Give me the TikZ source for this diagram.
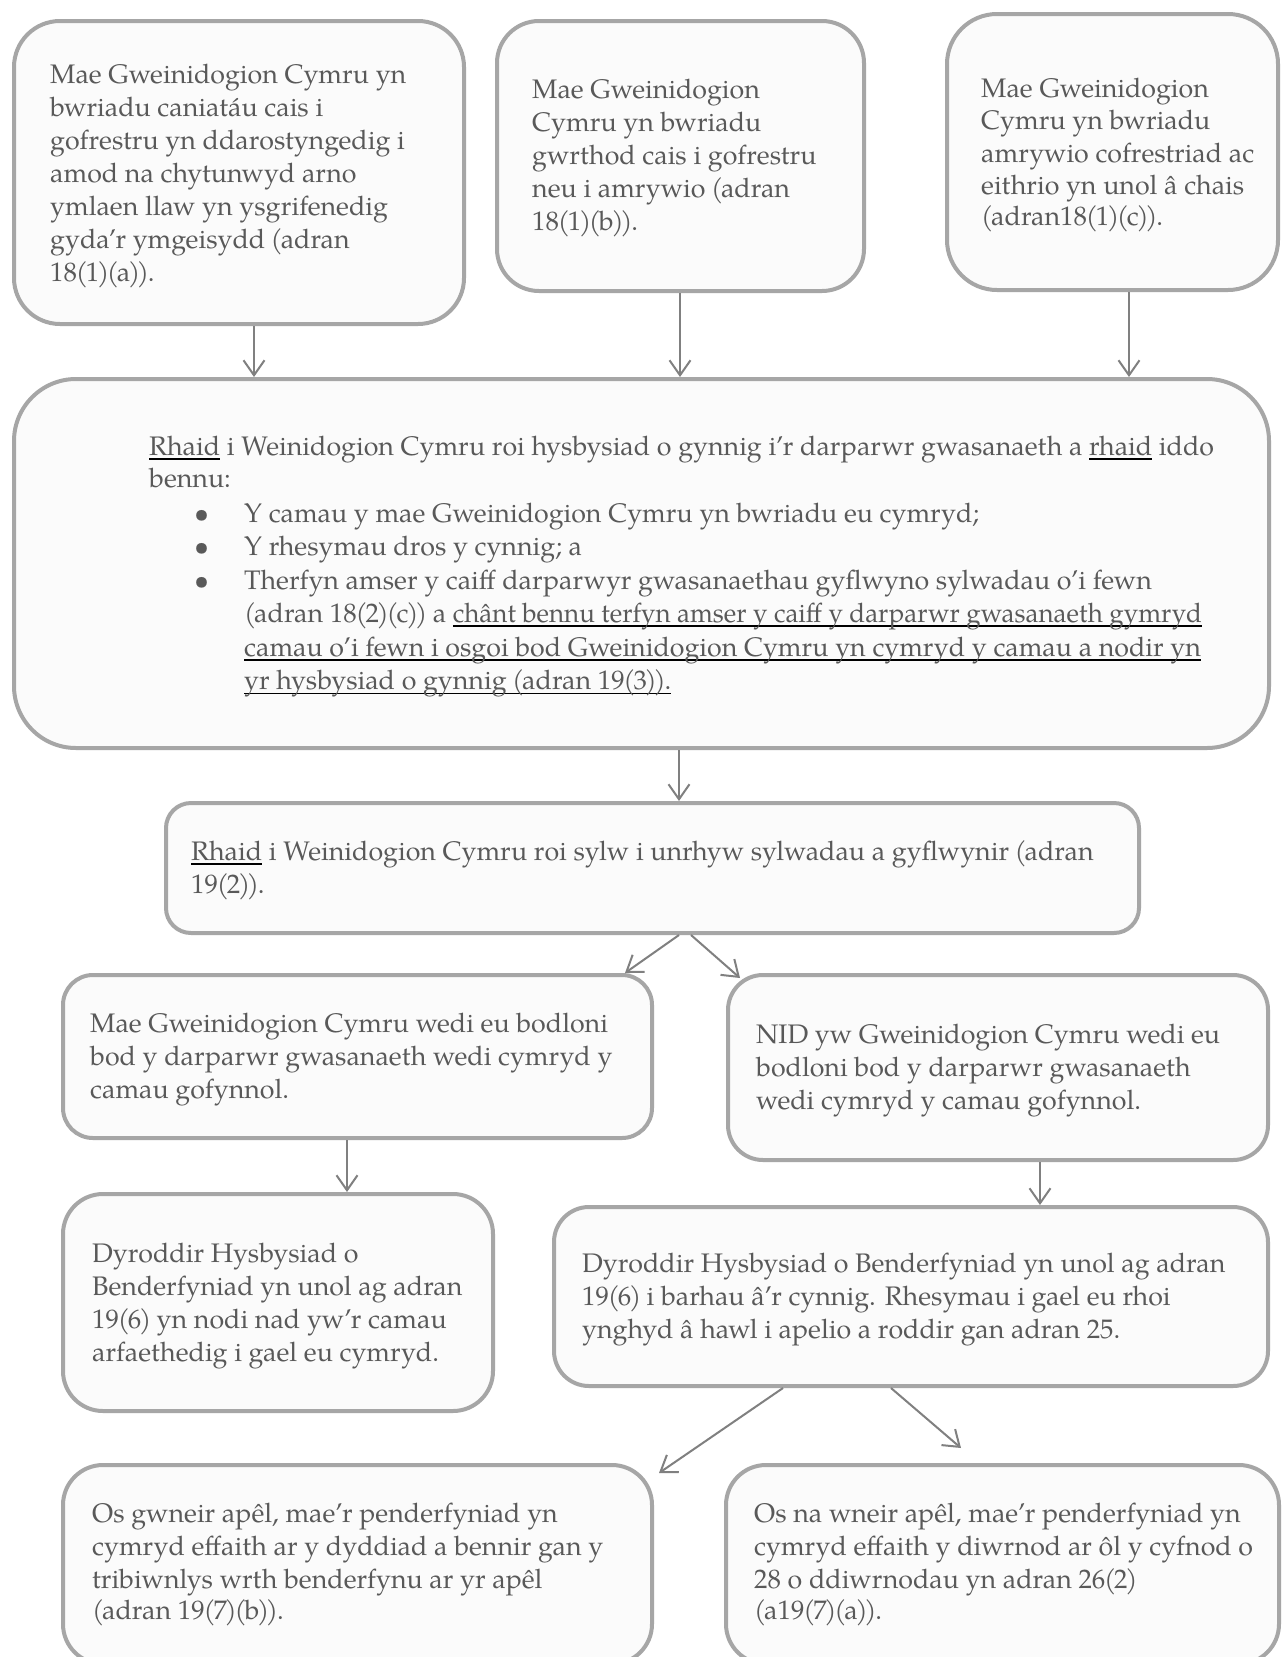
\documentclass[tikz,border=0pt]{standalone}
\usepackage{fontspec}
\usepackage{graphicx}
\setmainfont{texgyrepagella}[Extension=.otf, UprightFont=*-regular, BoldFont=*-bold, ItalicFont=*-italic, BoldItalicFont=*-bolditalic]
\usetikzlibrary{arrows.meta}
\definecolor{bordergray}{HTML}{A6A6A6}
\definecolor{txtgray}{HTML}{595959}
\definecolor{arrgray}{HTML}{808080}
\definecolor{boxfill}{HTML}{FBFBFB}
\newsavebox\ulbox
\newcommand\ulx[1]{\leavevmode\sbox\ulbox{#1}\rlap{\color{black}\rule[-4.5pt]{\wd\ulbox}{1.8pt}}\usebox\ulbox}
\newcommand\tb[2][33pt]{\parbox[t]{1300pt}{\fontsize{26.8pt}{#1}\selectfont\raggedright #2}}
\newcommand\bul{\leavevmode\llap{\textbullet\hspace{35pt}}}
\newcommand\LP{\kern-1.2pt(\kern-2.2pt}
\newcommand\RP{\kern-2.2pt)\kern-1.2pt}
\newcommand\boxat[6]{\node[boxsty, rounded corners=#6pt, minimum width={(#4-#2)*1pt}, minimum height={(#5-#3)*1pt}] (#1) at ({(#2+#4)/2},{(#3+#5)/2}) {};}
\tikzset{
  boxsty/.style={draw=bordergray, line width=4pt, fill=boxfill, inner sep=0pt, rectangle},
  txt/.style={inner sep=0pt, text=txtgray, anchor=base west},
  arr/.style={draw=arrgray, line width=2pt, -{Straight Barb[length=15pt,width=21pt]}}
}
\begin{document}
\begin{tikzpicture}[x=1pt, y=-1pt]
\useasboundingbox (0,0) rectangle (1282,1657);
\fill[white] (0,0) rectangle (1282,1657);
% boxes
\boxat{b1}{14}{21}{464}{324}{46}
\boxat{b2}{497}{21}{864}{291}{42}
\boxat{b3}{947}{14}{1278}{290}{50}
\boxat{big}{14}{379}{1269}{748}{62}
\boxat{b19}{166}{803}{1139}{933}{25}
\boxat{ml}{63}{975}{652}{1138}{30}
\boxat{mr}{728}{975}{1268}{1160}{35}
\boxat{ll}{63}{1194}{493}{1411}{40}
\boxat{lr}{554}{1207}{1268}{1386}{35}
\boxat{bl}{63}{1465}{652}{1664}{40}
\boxat{br}{726}{1465}{1279}{1664}{40}
% texts
\node[txt] (t1) at (50,83) {\tb{Mae Gweinidogion Cymru yn\\bwriadu caniatáu cais i\\gofrestru yn ddarostyngedig i\\amod na chytunwyd arno\\ymlaen llaw yn ysgrifenedig\\gyda’r ymgeisydd \LP adran\\18\LP 1\RP\LP a\RP\RP.}};
\node[txt] (t2) at (532,98) {\tb{Mae Gweinidogion\\Cymru yn bwriadu\\gwrthod cais i gofrestru\\neu i amrywio \LP adran\\18\LP 1\RP\LP b\RP\RP.}};
\node[txt] (t3) at (981,97) {\tb[32.5pt]{Mae Gweinidogion\\Cymru yn bwriadu\\amrywio cofrestriad ac\\eithrio yn unol â chais\\\LP adran18\LP 1\RP\LP c\RP\RP.}};
\node[txt] (tbig) at (149,455) {\tb[32pt]{\ulx{Rhaid} i Weinidogion Cymru roi hysbysiad o gynnig i’r darparwr gwasanaeth a \ulx{rhaid} iddo\\bennu:}};
\node[txt] (tbul) at (244,522) {\tb[33.8pt]{\bul Y camau y mae Gweinidogion Cymru yn bwriadu eu cymryd;\\\bul Y rhesymau dros y cynnig; a\\\bul Therfyn amser y caiff darparwyr gwasanaethau gyflwyno sylwadau o’i fewn\\\LP adran 18\LP 2\RP\LP c\RP\RP{} a \scalebox{0.967}[1]{\ulx{chânt bennu terfyn amser y caiff y darparwr gwasanaeth gymryd}}\\\ulx{camau o’i fewn i osgoi bod Gweinidogion Cymru yn cymryd y camau a nodir yn}\\\ulx{yr hysbysiad o gynnig \LP adran 19\LP 3\RP\RP.}}};
\node[txt] (t19) at (191,860) {\tb{\ulx{Rhaid} i Weinidogion Cymru roi sylw i unrhyw sylwadau a gyflwynir \LP adran\\19\LP 2\RP\RP.}};
\node[txt] (tml) at (90,1032) {\tb{Mae Gweinidogion Cymru wedi eu bodloni\\bod y darparwr gwasanaeth wedi cymryd y\\camau gofynnol.}};
\node[txt] (tmr) at (756,1043) {\tb{NID yw Gweinidogion Cymru wedi eu\\bodloni bod y darparwr gwasanaeth\\wedi cymryd y camau gofynnol.}};
\node[txt] (tll) at (92,1262) {\tb{Dyroddir Hysbysiad o\\Benderfyniad yn unol ag adran\\19\LP 6\RP{} yn nodi nad yw’r camau\\arfaethedig i gael eu cymryd.}};
\node[txt] (tlr) at (582,1272) {\tb{Dyroddir Hysbysiad o Benderfyniad yn unol ag adran\\19\LP 6\RP{} i barhau â’r cynnig. Rhesymau i gael eu rhoi\\ynghyd â hawl i apelio a roddir gan adran 25.}};
\node[txt] (tbl) at (92,1522) {\tb{Os gwneir apêl, mae’r penderfyniad yn\\cymryd effaith ar y dyddiad a bennir gan y\\tribiwnlys wrth benderfynu ar yr apêl\\\LP adran 19\LP 7\RP\LP b\RP\RP.}};
\node[txt] (tbr) at (754,1522) {\tb{Os na wneir apêl, mae’r penderfyniad yn\\cymryd effaith y diwrnod ar ôl y cyfnod o\\28 o ddiwrnodau yn adran 26\LP 2\RP\\\LP a19\LP 7\RP\LP a\RP\RP.}};
% arrows
\draw[arr] (b1.south -| 254,0) -- (big.north -| 254,0);
\draw[arr] (b2.south -| 680,0) -- (big.north -| 680,0);
\draw[arr] (b3.south -| 1129,0) -- (big.north -| 1129,0);
\draw[arr] (big.south -| 679,0) -- (b19.north -| 679,0);
\draw[arr] (b19.south -| 679,0) -- (ml.north -| 625,0);
\draw[arr] (b19.south -| 691,0) -- ([yshift=-5pt]mr.north -| 740,0);
\draw[arr] (ml.south -| 347,0) -- (ll.north -| 347,0);
\draw[arr] (mr.south -| 1040,0) -- (lr.north -| 1040,0);
\draw[arr] (lr.south -| 783,0) -- ([xshift=5pt,yshift=-10pt]bl.north east);
\draw[arr] (lr.south -| 891,0) -- ([yshift=15pt]br.north -| 961,0);
\end{tikzpicture}
\end{document}
